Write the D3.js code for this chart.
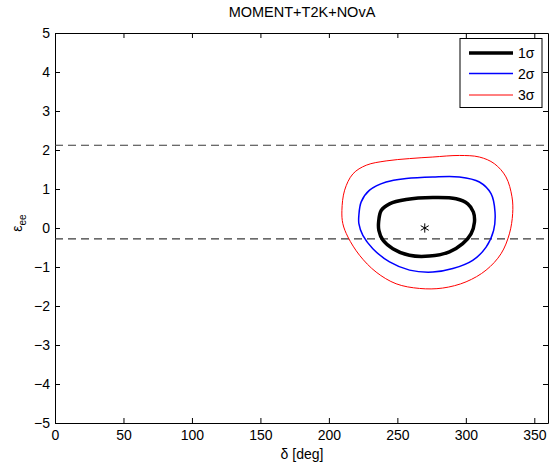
<!DOCTYPE html>
<html>
<head>
<meta charset="utf-8">
<script src="https://cdn.jsdelivr.net/npm/d3@7"></script>
<style>
  html, body { margin: 0; padding: 0; background: #fff; }
  svg { display: block; font-family: "Liberation Sans", Arial, Helvetica, sans-serif; }
</style>
</head>
<body>
<svg id="chart" width="549" height="464"></svg>
<script>
// Allowed-region contours in the (delta, eps_ee) plane
const contour1 = [
  [236.3, 0.15], [238.2, 0.45], [244.3, 0.62], [256.4, 0.73], [275.9, 0.78], [292.9, 0.75],
  [301.4, 0.62], [305.5, 0.41], [306.3, 0.15], [303.8, -0.15], [297.7, -0.40], [288.0, -0.61],
  [273.4, -0.72], [258.8, -0.70], [246.7, -0.53], [239.4, -0.31], [236.5, -0.06]
];
const contour2 = [
  [221.9, 0.33], [223.6, 0.67], [229.7, 0.97], [241.8, 1.18], [256.4, 1.27], [275.9, 1.31],
  [295.3, 1.31], [309.9, 1.18], [318.4, 0.88], [321.3, 0.41], [320.3, -0.06], [314.8, -0.49],
  [305.0, -0.83], [290.5, -1.04], [275.9, -1.13], [258.9, -1.08], [244.3, -0.87], [232.1, -0.53],
  [224.8, -0.19], [221.9, 0.11]
];
const contour3 = [
  [209.5, 0.45], [211.5, 0.97], [217.6, 1.39], [227.3, 1.61], [241.8, 1.72], [258.9, 1.78],
  [275.9, 1.82], [295.3, 1.86], [309.9, 1.82], [320.8, 1.65], [329.3, 1.31], [333.7, 0.80],
  [334.2, 0.37], [331.8, -0.15], [325.7, -0.66], [314.8, -1.08], [300.2, -1.38], [283.1, -1.54],
  [266.2, -1.55], [249.1, -1.43], [234.5, -1.13], [222.4, -0.70], [213.9, -0.23], [210.2, 0.11]
];
const bestFit = [270, 0];
const dashedLevels = [2.12, -0.28];
const xTicks = [0, 50, 100, 150, 200, 250, 300, 350];
const yTicks = [-5, -4, -3, -2, -1, 0, 1, 2, 3, 4, 5];
const legendLabels = ["1σ", "2σ", "3σ"];
const titleText = "MOMENT+T2K+NOvA";

const svg = d3.select("#chart");
const m = { left: 55, right: 548, top: 33, bottom: 423 };

const x = d3.scaleLinear().domain([0, 360]).range([m.left, m.right]);
const y = d3.scaleLinear().domain([-5, 5]).range([m.bottom, m.top]);

// frame
svg.append("rect")
  .attr("x", m.left).attr("y", m.top)
  .attr("width", m.right - m.left).attr("height", m.bottom - m.top)
  .attr("fill", "#fff").attr("stroke", "none");

// axes with inward ticks, mirrored on top/right
const tickLen = 5;
const axB = svg.append("g").attr("transform", `translate(0,${m.bottom})`)
  .call(d3.axisBottom(x).tickValues(xTicks).tickSizeInner(-tickLen).tickSizeOuter(0).tickPadding(7));
const axT = svg.append("g").attr("transform", `translate(0,${m.top})`)
  .call(d3.axisTop(x).tickValues(xTicks).tickSizeInner(-tickLen).tickSizeOuter(0).tickFormat(""));
const axL = svg.append("g").attr("transform", `translate(${m.left},0)`)
  .call(d3.axisLeft(y).tickValues(yTicks).tickSizeInner(-tickLen).tickSizeOuter(0).tickPadding(5)
    .tickFormat(d => d < 0 ? "\u2212" + Math.abs(d) : d));
const axR = svg.append("g").attr("transform", `translate(${m.right},0)`)
  .call(d3.axisRight(y).tickValues(yTicks).tickSizeInner(-tickLen).tickSizeOuter(0).tickFormat(""));

[axB, axT, axL, axR].forEach(g => {
  g.select(".domain").attr("stroke", "#000").attr("stroke-width", 1);
  g.selectAll(".tick line").attr("stroke", "#000").attr("stroke-width", 1);
  g.selectAll(".tick text").attr("fill", "#000").attr("font-size", 14)
    .attr("font-family", "'Liberation Sans', Arial, sans-serif");
});
axB.selectAll(".tick text").attr("dy", "0.71em");

// dashed reference levels
svg.append("g").selectAll("line").data(dashedLevels).join("line")
  .attr("x1", x(0)).attr("x2", x(360))
  .attr("y1", d => y(d)).attr("y2", d => y(d))
  .attr("stroke", "#3a3a3a").attr("stroke-width", 1.1)
  .attr("stroke-dasharray", "8,5");

// contours
const line = d3.line().x(d => x(d[0])).y(d => y(d[1])).curve(d3.curveCatmullRomClosed.alpha(0.5));
const series = [
  { data: contour3, color: "#ff0000", width: 1 },
  { data: contour2, color: "#0000ff", width: 1.5 },
  { data: contour1, color: "#000000", width: 3.5 }
];
svg.append("g").selectAll("path").data(series).join("path")
  .attr("d", d => line(d.data))
  .attr("fill", "none")
  .attr("stroke", d => d.color)
  .attr("stroke-width", d => d.width);

// best-fit point (asterisk marker)
svg.append("path")
  .attr("transform", `translate(${x(bestFit[0])},${y(bestFit[1])})`)
  .attr("d", d3.symbol(d3.symbolAsterisk, 60)())
  .attr("fill", "none").attr("stroke", "#000").attr("stroke-width", 1);

// legend
const leg = svg.append("g");
leg.append("rect").attr("x", 460).attr("y", 38.5).attr("width", 82).attr("height", 69)
  .attr("fill", "#fff").attr("stroke", "#000").attr("stroke-width", 1);
const legRows = [
  { label: legendLabels[0], color: "#000000", width: 3.5, yy: 53 },
  { label: legendLabels[1], color: "#0000ff", width: 1.5, yy: 73.5 },
  { label: legendLabels[2], color: "#ff0000", width: 1, yy: 95 }
];
legRows.forEach(r => {
  leg.append("line").attr("x1", 469).attr("x2", 513).attr("y1", r.yy).attr("y2", r.yy)
    .attr("stroke", r.color).attr("stroke-width", r.width);
  leg.append("text").attr("x", 518).attr("y", r.yy + 5).attr("font-size", 14).attr("fill", "#000")
    .text(r.label);
});

// title and axis labels
svg.append("text").attr("x", 302).attr("y", 17).attr("text-anchor", "middle")
  .attr("font-size", 14.5).attr("fill", "#000").text(titleText);

svg.append("text").attr("x", 302).attr("y", 459).attr("text-anchor", "middle")
  .attr("font-size", 14).attr("fill", "#000").text("δ [deg]");

const yl = svg.append("text").attr("transform", "translate(22,223) rotate(-90)")
  .attr("text-anchor", "middle").attr("font-size", 14).attr("fill", "#000");
yl.append("tspan").text("ε");
yl.append("tspan").attr("font-size", 10).attr("dy", 4).text("ee");
</script>
</body>
</html>
